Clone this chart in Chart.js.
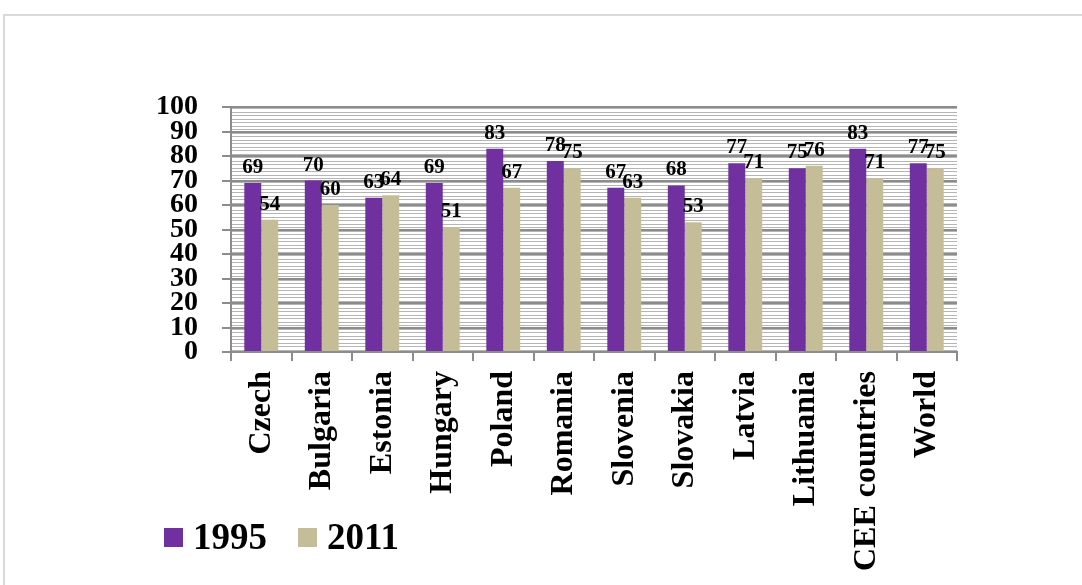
<!DOCTYPE html>
<html><head><meta charset="utf-8">
<script src="https://cdn.jsdelivr.net/npm/chart.js@4/dist/chart.umd.min.js"></script>
<style>
html,body{margin:0;padding:0;background:#fff;overflow:hidden}
#wrap{position:relative;width:1082px;height:585px}
#frame{position:absolute;left:3px;top:14px;width:1200px;height:700px;border:2px solid #d9d9d9;box-sizing:border-box;pointer-events:none}
canvas{position:absolute;left:0;top:0}
</style></head><body>
<div id="wrap"><div id="frame"></div><canvas id="c" width="1082" height="585"></canvas></div>
<script>
const categories = ['Czech','Bulgaria','Estonia','Hungary','Poland','Romania','Slovenia','Slovakia','Latvia','Lithuania','CEE countries','World'];
const values1995 = [69,70,63,69,83,78,67,68,77,75,83,77];
const values2011 = [54,60,64,51,67,75,63,53,71,76,71,75];
const seriesNames = ['1995','2011'];
const seriesColors = ['#7030A0','#C4BD97'];
const yMin = 0, yMax = 100, yStep = 10;

const FONT = '"Liberation Serif","Times New Roman",serif';

const hatchPlugin = {
  id:'hatch',
  beforeDraw(chart){
    const {ctx, chartArea:a} = chart;
    const pc = document.createElement('canvas');
    pc.width = 4; pc.height = 7;
    const p = pc.getContext('2d');
    p.fillStyle = '#ffffff'; p.fillRect(0,0,4,7);
    p.fillStyle = '#b5b5b5'; p.fillRect(0,0,4,1); p.fillRect(0,3,4,1);
    const pat = ctx.createPattern(pc,'repeat');
    ctx.save();
    ctx.fillStyle = pat;
    ctx.fillRect(a.left, a.top, a.right - a.left, a.bottom - a.top);
    ctx.restore();
  }
};

const valuePlugin = {
  id:'vals',
  afterDatasetsDraw(chart){
    const ctx = chart.ctx;
    ctx.save();
    ctx.font = 'bold 21px ' + FONT;
    ctx.fillStyle = '#000';
    ctx.textAlign = 'center';
    ctx.textBaseline = 'alphabetic';
    chart.data.datasets.forEach((ds,i)=>{
      chart.getDatasetMeta(i).data.forEach((bar,j)=>{
        ctx.fillText(String(ds.data[j]), bar.x, bar.y - 10);
      });
    });
    ctx.restore();
  }
};

const legendPlugin = {
  id:'customLegend',
  afterDraw(chart){
    const ctx = chart.ctx;
    ctx.save();
    ctx.font = 'bold 37px ' + FONT;
    ctx.textBaseline = 'middle';
    ctx.textAlign = 'left';
    let x = 164;
    const y = 528, s = 19;
    chart.data.datasets.forEach(ds=>{
      ctx.fillStyle = ds.backgroundColor;
      ctx.fillRect(x, y, s, s);
      ctx.fillStyle = '#000';
      const tx = x + s + 10;
      ctx.fillText(ds.label, tx, y + s/2 + 2);
      x = tx + ctx.measureText(ds.label).width + 31;
    });
    ctx.restore();
  }
};

new Chart(document.getElementById('c'), {
  type:'bar',
  data:{
    labels: categories,
    datasets:[
      {label: seriesNames[0], data: values1995, backgroundColor: seriesColors[0], categoryPercentage:0.56, barPercentage:1.0},
      {label: seriesNames[1], data: values2011, backgroundColor: seriesColors[1], categoryPercentage:0.56, barPercentage:1.0}
    ]
  },
  options:{
    responsive:false,
    animation:false,
    devicePixelRatio:1,
    layout:{padding:{top:107,right:125,bottom:0,left:0}},
    plugins:{legend:{display:false}, tooltip:{enabled:false}, title:{display:false}},
    scales:{
      x:{
        offset:true,
        grid:{drawOnChartArea:false, drawTicks:true, tickLength:9, color:'#8c8c8c', lineWidth:2},
        border:{display:true, color:'#8c8c8c', width:2},
        ticks:{autoSkip:false, minRotation:90, maxRotation:90, padding:10, color:'#000', font:{family:FONT, size:32, weight:'bold'}},
        afterFit(scale){ scale.height = 233; }
      },
      y:{
        min:yMin, max:yMax,
        ticks:{stepSize:yStep, autoSkip:false, padding:24, color:'#000', font:{family:FONT, size:28, weight:'bold', lineHeight:0.85}},
        grid:{color:'#8c8c8c', lineWidth:2, tickLength:9, tickColor:'#8c8c8c'},
        border:{display:true, color:'#8c8c8c', width:2},
        afterFit(scale){ scale.width = 231; }
      }
    }
  },
  plugins:[hatchPlugin, valuePlugin, legendPlugin]
});
</script>
</body></html>
